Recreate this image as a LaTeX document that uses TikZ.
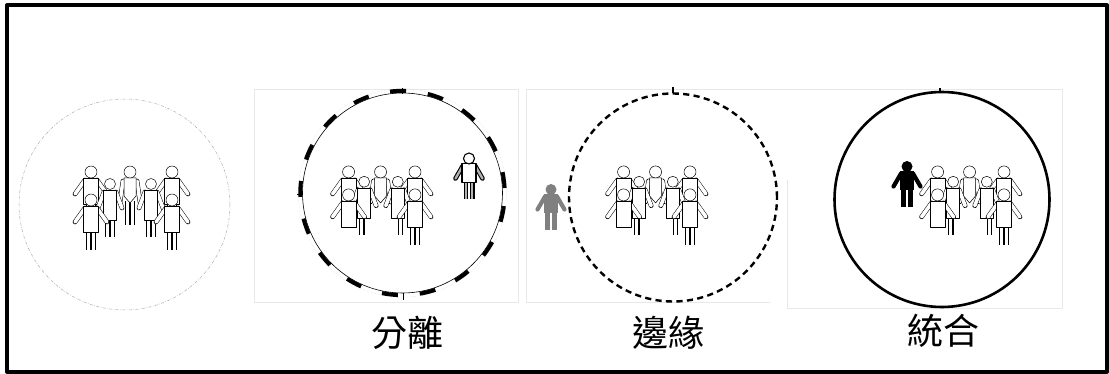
\documentclass[tikz,border=0pt]{standalone}
\usepackage{fontspec}
\newfontfamily\cjk{Noto Sans CJK TC}
\tikzset{
	limb/.style={double=white, double distance=3.6pt, line width=0.5pt},
	body/.style={fill=white, draw=black, line width=0.5pt},
	frame/.style={draw=gray!18, line width=0.6pt},
	tag/.style={font=\cjk\fontsize{36}{40}\selectfont, inner sep=0pt},
	man/.pic={
		\draw[limb, line cap=butt] (-2.6,30)--(-2.6,50) (2.6,30)--(2.6,50);
		\draw[limb, line cap=round] (-6,8)--(-16,22) (6,8)--(16,22);
		\filldraw[body] (-7.5,6) rectangle (7.5,32);
		\filldraw[body] (0,0) circle (6pt);
	},
	mid/.pic={
		\draw[limb, line cap=butt] (-2.6,29)--(-2.6,53) (2.6,29)--(2.6,53);
		\draw[limb, line cap=round] (-7,9)--(-10,30) (7,9)--(10,30);
		\filldraw[body] (-6,6)--(6,6)--(6,24)--(0,31)--(-6,24)--cycle;
		\filldraw[body] (0,0) circle (6pt);
	},
	kid/.pic={
		\draw[limb, line cap=butt] (-2.6,34)--(-2.6,53) (2.6,34)--(2.6,53);
		\draw[limb, line cap=round] (-6,8)--(-12,24) (6,8)--(12,24);
		\filldraw[body] (-6.5,6) rectangle (6.5,36);
		\filldraw[body] (0,0) circle (5.5pt);
	},
	crowd/.pic={
		\pic at (19,6) {man}; \pic at (100,6) {man}; \pic at (58,6) {mid};
		\pic at (38,18) {kid}; \pic at (79,18) {kid};
		\pic at (19,34) {man}; \pic at (100,34) {man};
	},
	solo/.pic={
		\draw[line width=5pt] (-3.5,22)--(-3.5,41) (3.5,22)--(3.5,41);
		\draw[line width=4.2pt, line cap=round] (-6,7)--(-13.5,20) (6,7)--(13.5,20);
		\fill (-7,5) rectangle (7,24);
		\fill (0,0) circle (5.5pt);
	},
	outcast/.pic={
		\draw[double=gray!60, double distance=2.4pt, line width=1.1pt] (-3.2,22)--(-3.2,41) (3.2,22)--(3.2,41);
		\draw[double=gray!60, double distance=2.4pt, line width=1.1pt, line cap=round] (-6,7)--(-13.5,20) (6,7)--(13.5,20);
		\filldraw[fill=white, line width=1.1pt] (-7,5) rectangle (7,24);
		\filldraw[fill=white, line width=1.1pt] (0,0) circle (5.5pt);
	}
}
\begin{document}
\begin{tikzpicture}[x=1pt, y=-1pt, line join=round]
	\useasboundingbox (0,0) rectangle (1109,374);
	\draw[line width=4pt] (7,5.5) rectangle (1107,371.5);
	% panel frames
	\draw[frame] (254,89) rectangle (518,302);
	\draw[frame] (770,302)--(526,302)--(526,89)--(1062,89)--(1062,308)--(787,308)--(787,180);
	% circles
	\draw[gray!65, line width=0.5pt, dash pattern=on 3pt off 1.5pt on 0.6pt off 1.5pt] (124.5,204.5) circle (105.5pt);
	\draw[line width=0.6pt] (402.5,193) circle (100pt);
	\draw[gray!30, line width=0.4pt, densely dotted] (402.5,193) circle (104.2pt);
	\draw[line width=4pt, dash pattern=on 16pt off 22pt, dash phase=33pt] (402.5,193) circle (102.2pt);
	\draw[line width=2.4pt, dash pattern=on 6.2pt off 4.3pt] (673,197.5) circle (104pt);
	\draw[line width=2.6pt] (942,199.5) circle (107.5pt);
	\draw[line width=0.6pt] (297,194)--(303,194) (402,88)--(402,94) (403,293)--(403,300);
	\draw[line width=1.6pt] (673,87)--(673,93) (940,88)--(940,93);
	% people
	\pic at (72,166) {crowd};
	\pic[scale=0.82] at (333,167) {crowd};
	\pic[scale=0.82] at (608,167) {crowd};
	\pic[scale=0.82] at (922,167) {crowd};
	\pic at (469,158.5) {outcast};
	\pic[gray] at (551,189.5) {solo};
	\pic at (907,166.5) {solo};
	% captions
	\node[tag] (sep) at (407,333) {分離};
	\node[tag] (marg) at (668,333) {邊緣};
	\node[tag] (integ) at (943,331) {統合};
\end{tikzpicture}
\end{document}
